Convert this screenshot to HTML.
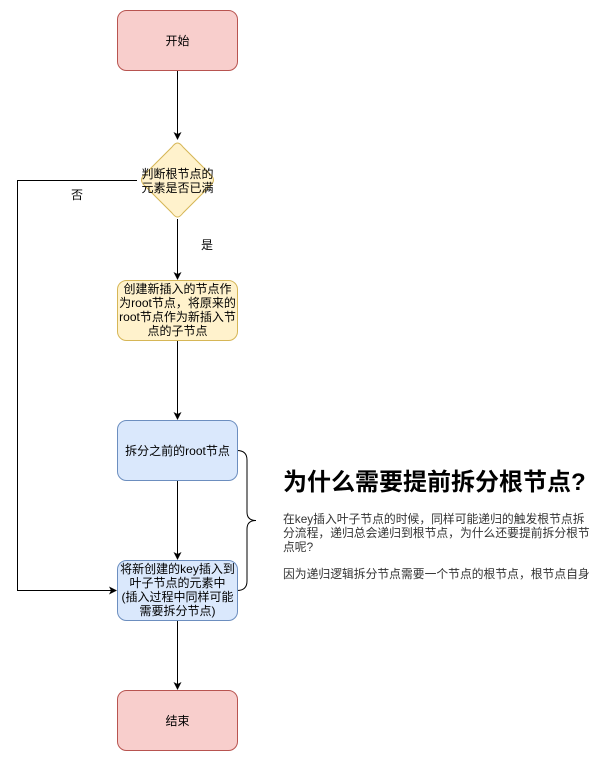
<!DOCTYPE html>
<html><head><meta charset="utf-8"><style>
html,body{margin:0;padding:0;background:#fff;}
svg{display:block;}
text{font-family:"Liberation Sans","Noto Sans CJK SC",sans-serif;font-size:12px;fill:#000;}
</style></head><body>
<svg width="608" height="761" viewBox="0 0 608 761" xmlns="http://www.w3.org/2000/svg">
<defs><marker id="a" markerWidth="8" markerHeight="8" refX="7" refY="4" orient="auto" markerUnits="userSpaceOnUse"><path d="M0,0 L8,4 L0,8 L2,4 Z" fill="#000"/></marker></defs>
<g stroke="#000" stroke-width="1" fill="none">
<line x1="177.5" y1="70" x2="177.5" y2="139" marker-end="url(#a)"/>
<line x1="177.5" y1="219" x2="177.5" y2="279" marker-end="url(#a)"/>
<line x1="177.5" y1="340" x2="177.5" y2="419" marker-end="url(#a)"/>
<line x1="177.5" y1="480" x2="177.5" y2="559" marker-end="url(#a)"/>
<line x1="177.5" y1="620" x2="177.5" y2="689" marker-end="url(#a)"/>
<polyline points="137,180.5 17.5,180.5 17.5,590.5 116,590.5" marker-end="url(#a)"/>
<path d="M237,450.5 Q247,450.5 247,460 L247,512 Q247,520.5 256,520.5 Q247,520.5 247,529 L247,581 Q247,590.5 237,590.5"/>
</g>
<rect x="117.5" y="10.5" width="120" height="60" rx="9" fill="#f8cecc" stroke="#b85450"/>
<path d="M177.5,143 Q180,143 183,147 L212,176 Q215,180 212,184 L183,213 Q180,217 177.5,217 Q175,217 172,213 L143,184 Q140,180 143,176 L172,147 Q175,143 177.5,143 Z" fill="#fff2cc" stroke="#d6b656"/>
<rect x="117.5" y="280.5" width="120" height="60" rx="9" fill="#fff2cc" stroke="#d6b656"/>
<rect x="117.5" y="420.5" width="120" height="60" rx="9" fill="#dae8fc" stroke="#6c8ebf"/>
<rect x="117.5" y="560.5" width="120" height="60" rx="9" fill="#dae8fc" stroke="#6c8ebf"/>
<rect x="117.5" y="690.5" width="120" height="60" rx="9" fill="#f8cecc" stroke="#b85450"/>
<g text-anchor="middle">
<text x="177.5" y="45">开始</text>
<text x="177.5" y="178">判断根节点的</text>
<text x="177.5" y="192">元素是否已满</text>
<text x="177.5" y="293">创建新插入的节点作</text>
<text x="177.5" y="307">为root节点，将原来的</text>
<text x="177.5" y="321">root节点作为新插入节</text>
<text x="177.5" y="335">点的子节点</text>
<text x="177.5" y="455">拆分之前的root节点</text>
<text x="177.5" y="573">将新创建的key插入到</text>
<text x="177.5" y="587">叶子节点的元素中</text>
<text x="177.5" y="601">(插入过程中同样可能</text>
<text x="177.5" y="615">需要拆分节点)</text>
<text x="177.5" y="725">结束</text>
<text x="77" y="199">否</text>
<text x="207" y="249">是</text>
</g>
<text x="283" y="490" style="font-size:24px;font-weight:bold">为什么需要提前拆分根节点?</text>
<g style="font-size:11.8px">
<text x="283" y="523" style="fill:#333;font-size:11.8px">在key插入叶子节点的时候，同样可能递归的触发根节点拆</text>
<text x="283" y="537" style="fill:#333;font-size:11.8px">分流程，递归总会递归到根节点，为什么还要提前拆分根节</text>
<text x="283" y="551" style="fill:#333;font-size:11.8px">点呢?</text>
<text x="283" y="578" style="fill:#333;font-size:11.8px">因为递归逻辑拆分节点需要一个节点的根节点，根节点自身</text>
</g>
</svg>
</body></html>
